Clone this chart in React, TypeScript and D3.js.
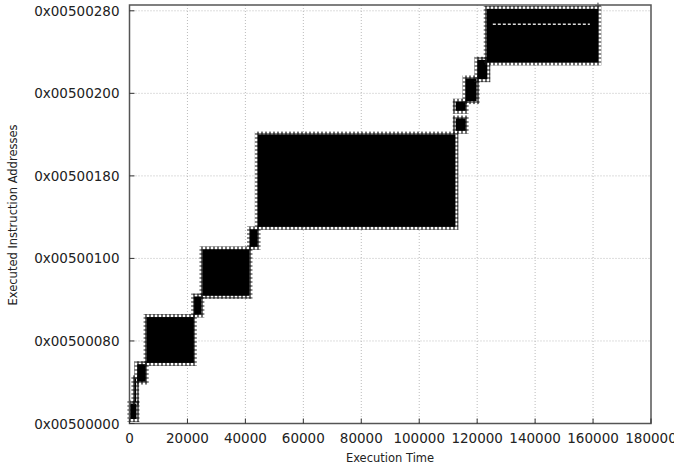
import React from 'react'
import * as d3 from 'd3'

// execution-time ticks and address ticks (offset from 0x00500000)
const xTicks = [0, 20000, 40000, 60000, 80000, 100000, 120000, 140000, 160000, 180000]
const yTicks = [0, 128, 256, 384, 512, 640]

// dense clusters of traced instruction addresses: [t0, t1, a0, a1]
const blockT0 = [300, 1700, 2700, 5900, 22300, 25200, 41600, 44300, 112600, 112600, 116000, 120100, 123300]
const blockT1 = [2400, 2300, 5600, 22200, 24800, 41400, 44200, 112500, 116000, 116000, 119800, 123500, 161800]
const blockA0 = [7, 33, 65, 94, 169, 198, 274, 305, 454, 485, 500, 534, 560]
const blockA1 = [31, 70, 92, 165, 197, 270, 301, 448, 473, 499, 535, 564, 643]

// the gap stripe inside the last cluster, and a lone sample at its corner
const gapT = [125400, 158900]
const gapA = 619
const strayT = [161700]
const strayA = [648]

export default function App() {
  const W = 674, H = 466
  const m = {left: 129.5, right: 651, top: 5, bottom: 423.5}

  const x = d3.scaleLinear().domain([0, 180000]).range([m.left, m.right])
  const y = d3.scaleLinear().domain([0, 649]).range([m.bottom, m.top])

  const hex = (v: number) => '0x' + (0x500000 + v).toString(16).padStart(8, '0')
  const font = 'DejaVu Sans, sans-serif'

  const blocks = blockT0.map((t0, i) => ({t0, t1: blockT1[i], a0: blockA0[i], a1: blockA1[i]}))

  return (
    <svg width={W} height={H} style={{position: 'absolute', left: 0, top: 0}}>
      <defs>
        <pattern id="plus" width="4" height="4" patternUnits="userSpaceOnUse">
          <path d="M0,2H4M2,0V4" stroke="#111" strokeWidth="1.2" />
        </pattern>
        <filter id="soft">
          <feGaussianBlur stdDeviation="0.7" />
        </filter>
      </defs>
      <rect width={W} height={H} fill="#fff" />

      {/* grid */}
      <g stroke="#bbb" strokeWidth="1" strokeDasharray="1,2">
        {xTicks.slice(1, -1).map(t => (
          <line key={t} x1={x(t)} x2={x(t)} y1={m.top} y2={m.bottom} />
        ))}
        {yTicks.slice(1).map(t => (
          <line key={t} x1={m.left} x2={m.right} y1={y(t)} y2={y(t)} />
        ))}
      </g>

      {/* data */}
      <g filter="url(#soft)">
        {blocks.map((b, i) => (
          <g key={i}>
            <rect x={x(b.t0) - 3} y={y(b.a1) - 3} width={x(b.t1) - x(b.t0) + 6}
              height={y(b.a0) - y(b.a1) + 6} fill="url(#plus)" />
            <rect x={x(b.t0)} y={y(b.a1)} width={x(b.t1) - x(b.t0)}
              height={y(b.a0) - y(b.a1)} fill="#000" />
          </g>
        ))}
        <line x1={x(gapT[0])} x2={x(gapT[1])} y1={y(gapA)} y2={y(gapA)}
          stroke="#ddd" strokeWidth="1.5" strokeDasharray="3,2" />
        {strayT.map((t, i) => (
          <path key={i} d={`M${x(t) - 3},${y(strayA[i])}h6M${x(t)},${y(strayA[i]) - 3}v6`}
            stroke="#333" strokeWidth="1" />
        ))}
      </g>

      {/* frame */}
      <rect x={m.left} y={m.top} width={m.right - m.left} height={m.bottom - m.top}
        fill="none" stroke="#555" strokeWidth="1.5" />

      {/* ticks */}
      <g stroke="#333" strokeWidth="1">
        {xTicks.map(t => (
          <line key={t} x1={x(t)} x2={x(t)} y1={m.bottom} y2={m.bottom - 5} />
        ))}
        {yTicks.map(t => (
          <line key={t} x1={m.left} x2={m.left + 5} y1={y(t)} y2={y(t)} />
        ))}
      </g>

      {/* tick labels */}
      <g fontFamily={font} fontSize="13.5" fill="#222">
        {xTicks.map(t => (
          <text key={t} x={x(t)} y={m.bottom + 19} textAnchor="middle">{t}</text>
        ))}
        {yTicks.map(t => (
          <text key={t} x={m.left - 10} y={y(t) + 5} textAnchor="end">{hex(t)}</text>
        ))}
      </g>

      {/* axis titles */}
      <text x={390} y={462} textAnchor="middle" fontFamily={font} fontSize="11.5" fill="#222">
        Execution Time
      </text>
      <text transform="translate(17,215) rotate(-90)" textAnchor="middle"
        fontFamily={font} fontSize="11.5" fill="#222">
        Executed Instruction Addresses
      </text>
    </svg>
  )
}
